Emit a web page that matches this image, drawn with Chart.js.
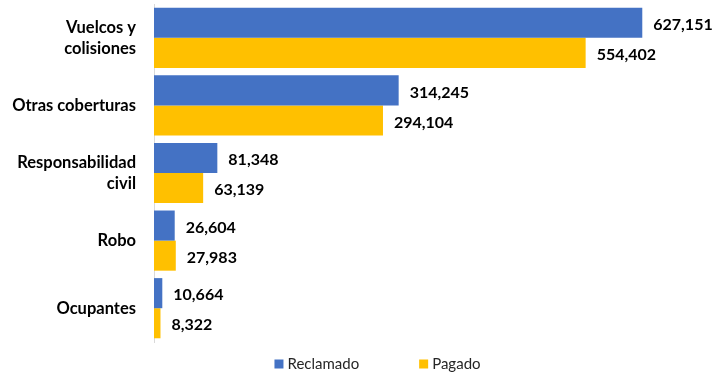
<!DOCTYPE html>
<html>
<head>
<meta charset="utf-8">
<script src="https://cdn.jsdelivr.net/npm/chart.js@4/dist/chart.umd.min.js"></script>
<style>
  html, body { margin: 0; padding: 0; background: #fff; }
  #wrap { width: 717px; height: 373px; }
</style>
</head>
<body>
<div id="wrap"><canvas id="coberturasChart"></canvas></div>
<script>
const categories = [
  ['Vuelcos y', 'colisiones'],
  'Otras coberturas',
  ['Responsabilidad', 'civil'],
  'Robo',
  'Ocupantes'
];
const reclamado = [627151, 314245, 81348, 26604, 10664];
const pagado = [554402, 294104, 63139, 27983, 8322];

// etiquetas con el valor al final de cada barra
const barLabels = {
  id: 'barLabels',
  afterDatasetsDraw(chart) {
    const c = chart.ctx;
    c.save();
    c.font = 'bold 16px Lato';
    c.fillStyle = '#000';
    c.textBaseline = 'middle';
    c.textAlign = 'left';
    chart.data.datasets.forEach((ds, i) => {
      chart.getDatasetMeta(i).data.forEach((bar, j) => {
        c.fillText(ds.data[j].toLocaleString('en-US'), bar.x + 11, bar.y + 2);
      });
    });
    c.restore();
  }
};

// leyenda abajo, con separacion amplia entre series (como en Excel)
const bottomLegend = {
  id: 'bottomLegend',
  afterDraw(chart) {
    const c = chart.ctx;
    const box = 9, gap = 4, spacing = 60;
    c.save();
    c.font = '15px Lato';
    c.textBaseline = 'middle';
    c.textAlign = 'left';
    const items = chart.data.datasets.map(ds => ({
      text: ds.label,
      color: ds.backgroundColor,
      w: box + gap + c.measureText(ds.label).width
    }));
    const total = items.reduce((s, it) => s + it.w, 0) + spacing * (items.length - 1);
    let x = chart.width / 2 + 19 - total / 2;
    const y = chart.height - 9;
    items.forEach(it => {
      c.fillStyle = it.color;
      c.fillRect(x, y - 4.5, box, box);
      c.fillStyle = '#262626';
      c.fillText(it.text, x + box + gap, y);
      x += it.w + spacing;
    });
    c.restore();
  }
};

const ctx = document.getElementById('coberturasChart').getContext('2d');
const chart = new Chart(ctx, {
  type: 'bar',
  data: {
    labels: categories,
    datasets: [
      {
        label: 'Reclamado',
        data: reclamado,
        backgroundColor: '#4472C4',
        borderWidth: 0
      },
      {
        label: 'Pagado',
        data: pagado,
        backgroundColor: '#FFC000',
        borderWidth: 0
      }
    ]
  },
  options: {
    indexAxis: 'y',
    responsive: true,
    maintainAspectRatio: false,
    animation: false,
    datasets: {
      bar: { categoryPercentage: 0.89, barPercentage: 1.0 }
    },
    layout: { padding: { top: 4, right: 18, left: 0, bottom: 31 } },
    scales: {
      x: {
        display: false,
        min: 0,
        max: 700000
      },
      y: {
        grid: { display: false, drawTicks: false },
        border: { display: true, color: '#D9D9D9', width: 1 },
        ticks: {
          color: '#000',
          padding: 18,
          font: { family: 'Lato', size: 16.5, weight: 'bold', lineHeight: 1.27 }
        },
        afterFit(scale) {
          scale.width = 154;
          scale.paddingTop = 0;
          scale.paddingBottom = 0;
        }
      }
    },
    plugins: {
      legend: { display: false },
      tooltip: { enabled: false }
    }
  },
  plugins: [barLabels, bottomLegend]
});
</script>
</body>
</html>
